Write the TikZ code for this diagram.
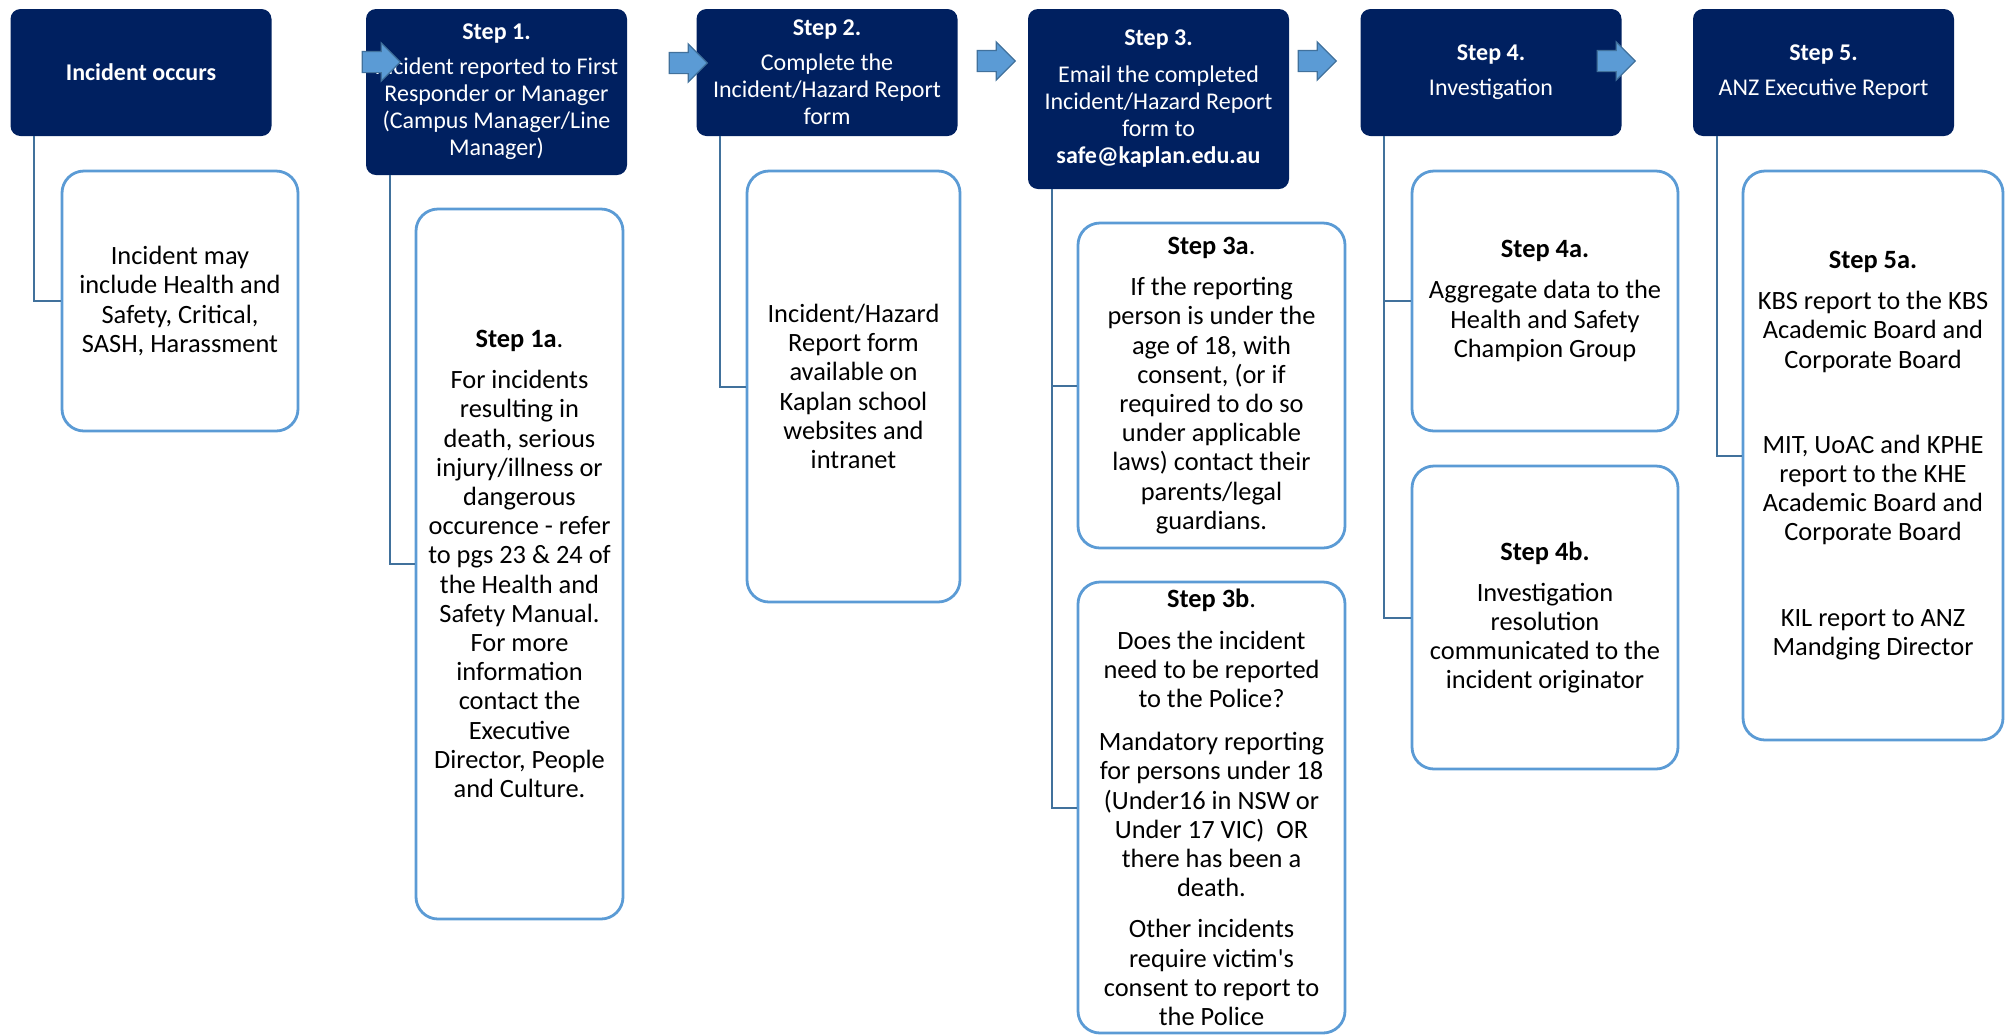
\documentclass[tikz,border=0pt]{standalone}
\usepackage{fontspec}
\setmainfont{Carlito}
\usetikzlibrary{shapes.arrows}
\definecolor{navy}{HTML}{002060}
\definecolor{acc}{HTML}{5B9BD5}
\definecolor{lnk}{HTML}{41719C}
\tikzset{
  stepbox/.style={fill=navy,text=white,rounded corners=5pt,align=center,inner sep=2pt,
    minimum width=130.5pt,font=\fontsize{12}{13.5}\selectfont},
  infobox/.style={draw=acc,line width=1.4pt,fill=white,rounded corners=11pt,align=center,inner sep=2pt,
    font=\fontsize{13.2}{14.6}\selectfont},
  link/.style={draw=lnk,line width=1pt},
  blk/.style={single arrow,draw=lnk,fill=acc,line width=0.6pt,inner sep=5pt,minimum height=19pt,
    single arrow head extend=4.25pt},
}
\begin{document}
\begin{tikzpicture}[x=0.5pt,y=-0.5pt]
  \useasboundingbox (0,0) rectangle (2013,1035);
  % top row
  \node[stepbox,minimum height=63.5pt] (d0) at (141,72.5) {\textbf{Incident occurs}};
  \node[stepbox,minimum height=83pt] (d1) at (496.5,92) {\textbf{Step 1.}\\[4pt] Incident reported to First\\ Responder or Manager\\ (Campus Manager/Line\\ Manager)};
  \node[stepbox,minimum height=63.5pt] (d2) at (827,72.5) {\textbf{Step 2.}\\[4pt] Complete the\\ Incident/Hazard Report\\ form};
  \node[stepbox,minimum height=90pt] (d3) at (1158.5,99) {\textbf{Step 3.}\\[5pt] Email the completed\\ Incident/Hazard Report\\ form to\\ \textbf{safe@kaplan.edu.au}};
  \node[stepbox,minimum height=63.5pt] (d4) at (1491,72.5) {\textbf{Step 4.}\\[4pt] Investigation};
  \node[stepbox,minimum height=63.5pt] (d5) at (1823.5,72.5) {\textbf{Step 5.}\\[4pt] ANZ Executive Report};
  % detail boxes
  \node[infobox,minimum width=118pt,minimum height=130pt] (l0) at (180,301) {Incident may\\ include Health and\\ Safety, Critical,\\ SASH, Harassment};
  \node[infobox,minimum width=103.5pt,minimum height=355pt] (l1) at (519.5,564) {\textbf{Step 1a}.\\[6pt] For incidents\\ resulting in\\ death, serious\\ injury/illness or\\ dangerous\\ occurence - refer\\ to pgs 23 \& 24 of\\ the Health and\\ Safety Manual.\\ For more\\ information\\ contact the\\ Executive\\ Director, People\\ and Culture.};
  \node[infobox,minimum width=106.5pt,minimum height=215.5pt] (l2) at (853.5,386.5) {Incident/Hazard\\ Report form\\ available on\\ Kaplan school\\ websites and\\ intranet};
  \node[infobox,minimum width=133.5pt,minimum height=162.5pt] (l3a) at (1211.5,385.5) {\textbf{Step 3a}.\\[6pt] If the reporting\\ person is under the\\ age of 18, with\\ consent, (or if\\ required to do so\\ under applicable\\ laws) contact their\\ parents/legal\\ guardians.};
  \node[infobox,minimum width=133.5pt,minimum height=225.5pt] (l3b) at (1211.5,807.5) {\textbf{Step 3b}.\\[6pt] Does the incident\\ need to be reported\\ to the Police?\\[7pt] Mandatory reporting\\ for persons under 18\\ (Under16 in NSW or\\ Under 17 VIC)\ \ OR\\ there has been a\\ death.\\[6pt] Other incidents\\ require victim\textquotesingle s\\ consent to report to\\ the Police};
  \node[infobox,minimum width=133pt,minimum height=130pt] (l4a) at (1545,301) {\textbf{Step 4a.}\\[6pt] Aggregate data to the\\ Health and Safety\\ Champion Group};
  \node[infobox,minimum width=133pt,minimum height=151.5pt] (l4b) at (1545,617.5) {\textbf{Step 4b.}\\[6pt] Investigation\\ resolution\\ communicated to the\\ incident originator};
  \node[infobox,minimum width=130pt,minimum height=284.5pt] (l5) at (1873,455.5) {\textbf{Step 5a.}\\[6pt] KBS report to the KBS\\ Academic Board and\\ Corporate Board\\[28pt] MIT, UoAC and KPHE\\ report to the KHE\\ Academic Board and\\ Corporate Board\\[28pt] KIL report to ANZ\\ Mandging Director};
  % elbow links
  \draw[link] ([xshift=12pt]d0.south west) |- (l0.west);
  \draw[link] ([xshift=12pt]d1.south west) |- (l1.west);
  \draw[link] ([xshift=12pt]d2.south west) |- (l2.west);
  \draw[link] ([xshift=12pt]d3.south west) |- (l3a.west);
  \draw[link] ([xshift=12pt]d3.south west) |- (l3b.west);
  \draw[link] ([xshift=12pt]d4.south west) |- (l4a.west);
  \draw[link] ([xshift=12pt]d4.south west) |- (l4b.west);
  \draw[link] ([xshift=12pt]d5.south west) |- (l5.west);
  % block arrows
  \node[blk] (a1) at (376,62) {};
  \node[blk] (a2) at (683,63) {};
  \node[blk] (a3) at (991,61) {};
  \node[blk] (a4) at (1312,61) {};
  \node[blk] (a5) at (1611,61) {};
\end{tikzpicture}
\end{document}
